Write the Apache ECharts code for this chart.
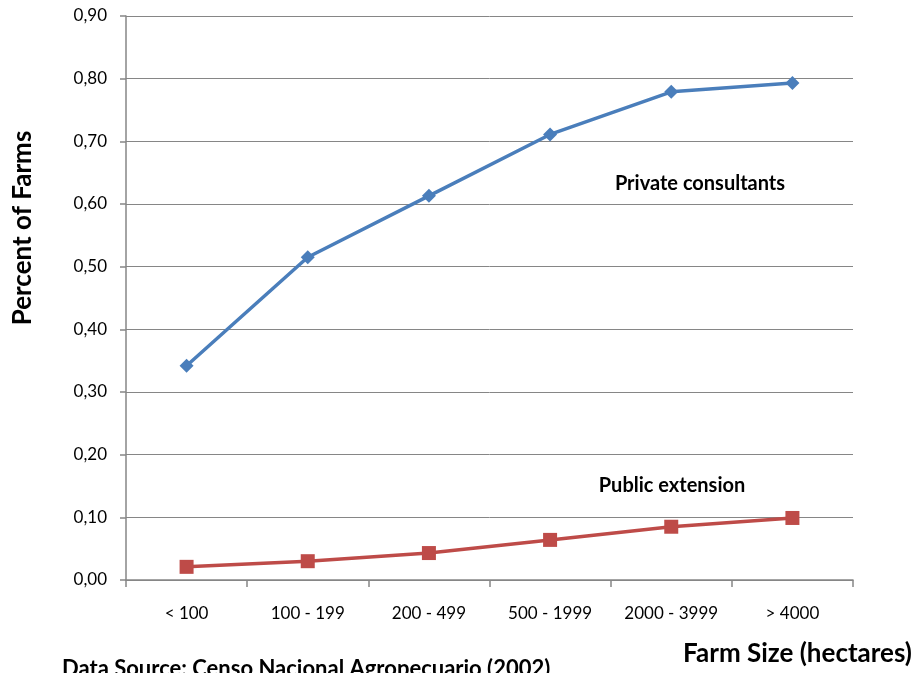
<!DOCTYPE html>
<html><head><meta charset="utf-8">
<script src="https://cdn.jsdelivr.net/npm/echarts@6/dist/echarts.min.js"></script>
<style>html,body{margin:0;padding:0;background:#fff}#c{width:919px;height:673px}</style>
</head><body><div id="c"></div>
<script>
const categories = ['< 100', '100 - 199', '200 - 499', '500 - 1999', '2000 - 3999', '> 4000'];
const privateConsultants = [0.342, 0.515, 0.613, 0.711, 0.779, 0.793];
const publicExtension = [0.021, 0.030, 0.043, 0.064, 0.085, 0.099];
const F = 'Lato, "Open Sans", sans-serif';
const chart = echarts.init(document.getElementById('c'));
chart.setOption({
  animation: false,
  grid: {left: 126, right: 66, top: 16, bottom: 93, containLabel: false},
  xAxis: {
    type: 'category', data: categories, boundaryGap: true,
    axisLine: {lineStyle: {color: '#868686', width: 1.5}},
    axisTick: {show: true, interval: 0, length: 7, lineStyle: {color: '#868686', width: 1.5}},
    axisLabel: {color: '#000', fontFamily: F, fontSize: 17, margin: 25, interval: 0, hideOverlap: false}
  },
  yAxis: {
    type: 'value', min: 0, max: 0.9, interval: 0.1,
    axisLine: {show: true, lineStyle: {color: '#868686', width: 1.5}},
    axisTick: {show: true, length: 6, lineStyle: {color: '#868686', width: 1.5}},
    splitLine: {lineStyle: {color: '#868686', width: 1}},
    axisLabel: {color: '#000', fontFamily: F, fontSize: 17, margin: 19,
      formatter: v => v.toFixed(2).replace('.', ',')}
  },
  series: [
    {type: 'line', data: privateConsultants, symbol: 'diamond', symbolSize: 14,
      lineStyle: {color: '#4A7EBB', width: 3.5}, itemStyle: {color: '#4A7EBB'}},
    {type: 'line', data: publicExtension, symbol: 'rect', symbolSize: 14,
      lineStyle: {color: '#BE4B48', width: 3.5}, itemStyle: {color: '#BE4B48'}}
  ],
  graphic: [
    {type: 'text', x: 700, y: 184, style: {text: 'Private consultants', font: 'bold 20px ' + F, fill: '#000', align: 'center', verticalAlign: 'middle'}},
    {type: 'text', x: 672, y: 486, style: {text: 'Public extension', font: 'bold 20px ' + F, fill: '#000', align: 'center', verticalAlign: 'middle'}},
    {type: 'text', x: 23, y: 228, rotation: Math.PI / 2, style: {text: 'Percent of Farms', font: 'bold 26px ' + F, fill: '#000', align: 'center', verticalAlign: 'middle'}},
    {type: 'text', x: 912, y: 654, style: {text: 'Farm Size (hectares)', font: 'bold 26px ' + F, fill: '#000', align: 'right', verticalAlign: 'middle'}},
    {type: 'text', x: 62, y: 669, style: {text: 'Data Source: Censo Nacional Agropecuario (2002)', font: 'bold 22px ' + F, fill: '#000', align: 'left', verticalAlign: 'middle'}}
  ]
});
</script></body></html>
